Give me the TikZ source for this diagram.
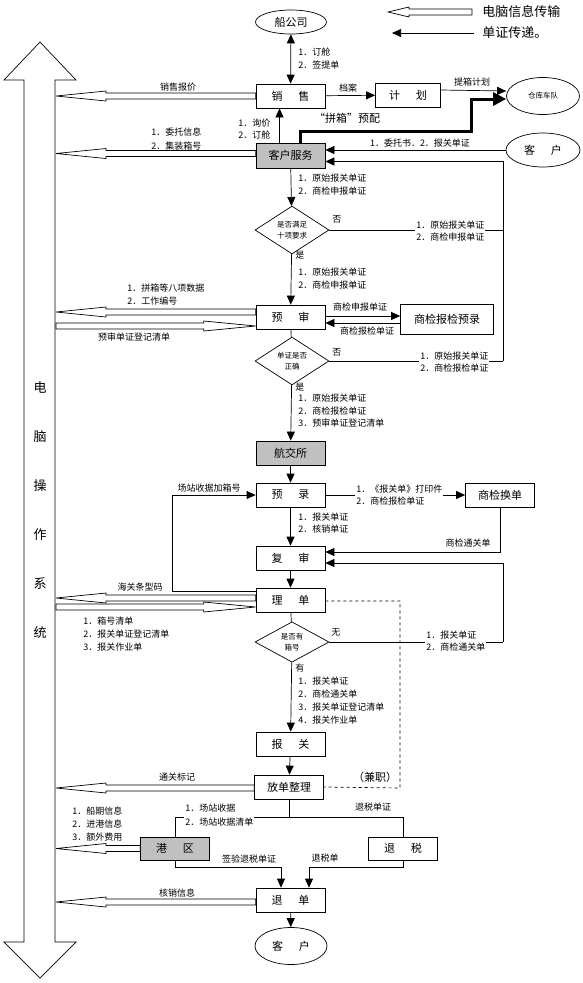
\documentclass[tikz,border=0pt]{standalone}
\usepackage{fontspec}
\setmainfont{Noto Sans CJK SC}
\usetikzlibrary{shapes.geometric,arrows.meta,calc}
\definecolor{boxgray}{RGB}{192,192,192}

\newcommand{\smallcn}{\fontsize{9}{12}\selectfont}
\newcommand{\tinycn}{\fontsize{7.5}{11}\selectfont}
\newcommand{\boxcn}{\fontsize{11}{13}\selectfont}
\newcommand{\bigcn}{\fontsize{13}{15}\selectfont}
\newcommand{\bgap}{\hspace{16pt}}

% hollow arrows to / from the computer system
\newcommand{\toSys}[1]{\draw[fill=white] let \p1=(#1) in
	(\x1,\y1+3pt) -- (106pt,\y1+3pt) -- (106pt,\y1+5pt) -- (56pt,\y1) -- (106pt,\y1-5pt) -- (106pt,\y1-3pt) -- (\x1,\y1-3pt) -- cycle;}
\newcommand{\fromSys}[1]{\draw[fill=white] let \p1=(#1) in
	(56pt,\y1+3pt) -- (\x1-52pt,\y1+3pt) -- (\x1-52pt,\y1+5pt) -- (\x1,\y1) -- (\x1-52pt,\y1-5pt) -- (\x1-52pt,\y1-3pt) -- (56pt,\y1-3pt) -- cycle;}

\begin{document}
\begin{tikzpicture}[x=1pt,y=-1pt,line width=0.7pt,
	every node/.style={inner sep=1pt},
	box/.style={draw, minimum width=69pt, minimum height=24pt, inner sep=0pt, font=\boxcn},
	shadebox/.style={box, fill=boxgray},
	cond/.style={draw, diamond, minimum width=74pt, minimum height=40pt, inner sep=0pt, align=center, font=\tinycn},
	oval/.style={draw, ellipse, inner sep=0pt, font=\boxcn},
	txt/.style={anchor=west, font=\smallcn},
	ctxt/.style={font=\smallcn},
	wtxt/.style={txt, align=left, fill=white},
	arr/.style={-{Triangle[length=9pt,width=8pt]}},
	arrr/.style={{Triangle[length=9pt,width=8pt]}-{Triangle[length=9pt,width=8pt]}}]
	
	\useasboundingbox (0,0) rectangle (582,983);
	
	% legend
	\draw[fill=white] (472,9) -- (409,9) -- (409,7) -- (388,12) -- (409,17) -- (409,15) -- (472,15) -- cycle;
	\node[anchor=west, font=\bigcn] (leg1) at (481,12) {电脑信息传输};
	\coordinate (legA) at (474,33); \coordinate (legB) at (392,33);
	\draw[arr] (legA) -- (legB);
	\node[anchor=west, font=\bigcn] (leg2) at (481,33) {单证传递。};
	
	% computer system
	\draw[fill=white] (24,80) -- (4,80) -- (40,42) -- (76,80) -- (55,80) -- (55,942) -- (76,942) -- (40,978) -- (4,942) -- (24,942) -- cycle;
	\foreach \ch [count=\i] in {电,脑,操,作,系,统}
	\node[font=\bigcn] (sys\i) at (40,{387+49.2*(\i-1)}) {\ch};
	
	% nodes
	\node[oval, minimum width=71pt, minimum height=24pt] (ship) at (291,22) {船公司};
	\node[box] (sales) at (290.5,96) {销\bgap 售};
	\node[box, minimum width=65pt] (plan) at (408,95) {计\bgap 划};
	\node[oval, minimum width=73pt, minimum height=37pt, font=\tinycn] (depot) at (543,96) {仓库车队};
	\node[shadebox, minimum height=25pt] (service) at (290.5,155.5) {客户服务};
	\node[oval, minimum width=74pt, minimum height=34pt] (client) at (543,150) {客\bgap 户};
	\node[cond] (check) at (292,230) {是否满足\\十项要求};
	\node[box] (preaudit) at (290.5,317) {预\bgap 审};
	\node[box, minimum width=93pt, minimum height=30pt] (ciq) at (447,319) {商检报检预录};
	\node[cond] (right) at (292,361) {单证是否\\正确};
	\node[shadebox] (hangjiao) at (290.5,453) {航交所};
	\node[box] (prerec) at (290.5,495) {预\bgap 录};
	\node[box] (swap) at (500,495) {商检换单};
	\node[box] (recheck) at (290.5,558) {复\bgap 审};
	\node[box] (sort) at (290.5,600) {理\bgap 单};
	\node[cond] (boxno) at (292,642) {是否有\\箱号};
	\node[box] (customs) at (290.5,744) {报\bgap 关};
	\node[box] (release) at (289,787) {放单整理};
	\node[shadebox, minimum height=23pt] (port) at (175,848.5) {港\bgap 区};
	\node[box, minimum height=23pt] (taxback) at (403,848.5) {退\bgap 税};
	\node[box] (refund) at (290.5,900) {退\bgap 单};
	\node[oval, minimum width=72pt, minimum height=37pt] (client2) at (291,946) {客\bgap 户};
	
	% top part
	\draw[arrr] (ship) -- (sales);
	\node[txt] (l1) at (297,52) {1．订舱};
	\node[txt] (l2) at (297,65) {2．签提单};
	\toSys{sales.west}
	\node[ctxt] (l3) at (178,87) {销售报价};
	\draw[arr] (sales) -- (plan);
	\node[ctxt] (l4) at (348,88) {档案};
	\draw[arr] ([yshift=5pt]plan.east) -- ([yshift=5pt]depot.west);
	\node[ctxt] (l5) at (472,82) {提箱计划};
	\draw[line width=3pt, -{Triangle[length=13pt,width=13pt]}] ([xshift=10pt]service.north) |- (471,131) |- ([yshift=-3pt]depot.west);
	\node[font=\boxcn] (l6) at (347,118) {“拼箱”预配};
	\draw[arr] ([xshift=-11pt]service.north) -- ([xshift=-11pt]sales.south);
	\node[txt] (l7) at (237,123) {1．询价};
	\node[txt] (l8) at (237,135) {2．订舱};
	\toSys{[yshift=2pt]service.west}
	\node[txt] (l9) at (150,132) {1．委托信息};
	\node[txt] (l10) at (150,146) {2．集装箱号};
	\draw[arr] (client.west) -- (client.west -| service.east);
	\node[ctxt] (l11) at (420,143) {1．委托书．2．报关单证};
	
	% checking
	\draw[arr] (service) -- (check);
	\node[txt] (l12) at (297,178) {1．原始报关单证};
	\node[txt] (l13) at (297,191) {2．商检申报单证};
	\coordinate (back1) at (503,230);
	\coordinate (back2) at (503,361);
	\draw (check.east) -- (back1);
	\draw (right.east) -- (back2);
	\draw[arr] (back2) |- ([yshift=-6pt]service.east);
	\node[txt] (no1) at (331,219) {否};
	\node[wtxt] (l14) at (415,231) {1．原始报关单证\\2．商检申报单证};
	\draw[arr] (check) -- (preaudit);
	\node[txt] (yes1) at (294,255) {是};
	\node[txt] (l15) at (297,272) {1．原始报关单证};
	\node[txt] (l16) at (297,285) {2．商检申报单证};
	
	% pre-audit
	\toSys{[yshift=5pt]preaudit.west}
	\node[txt] (l17) at (126,288) {1．拼箱等八项数据};
	\node[txt] (l18) at (126,301) {2．工作编号};
	\fromSys{[yshift=-9pt]preaudit.west}
	\node[ctxt] (l19) at (134,337) {预审单证登记清单};
	\draw[arr] ([yshift=1pt]preaudit.east) -- ([yshift=3pt]ciq.west);
	\draw[arr] ([yshift=-4pt]ciq.west) -- ([yshift=-6pt]preaudit.east);
	\node[ctxt] (l20) at (360,307) {商检申报单证};
	\node[ctxt] (l21) at (367,331) {商检报检单证};
	\draw (preaudit) -- (right);
	\node[txt] (no2) at (331,352) {否};
	\node[wtxt] (l22) at (419,362) {1．原始报关单证\\2．商检报检单证};
	\draw[arr] (right) -- (hangjiao);
	\node[txt] (yes2) at (294,387) {是};
	\node[txt] (l23) at (297,398) {1．原始报关单证};
	\node[txt] (l24) at (297,411) {2．商检报检单证};
	\node[txt] (l25) at (297,423) {3．预审单证登记清单};
	
	% pre-record and recheck
	\draw[arr] (hangjiao) -- (prerec);
	\draw[arr] ([yshift=9pt]sort.west) -| (172,495) -- (prerec.west);
	\node[ctxt] (l26) at (209,488) {场站收据加箱号};
	\draw[arr] (prerec) -- (swap);
	\node[wtxt] (l27) at (355,495) {1．《报关单》打印件\\2．商检报检单证};
	\draw[arr] (prerec) -- (recheck);
	\node[txt] (l28) at (297,517) {1．报关单证};
	\node[txt] (l29) at (297,529) {2．核销单证};
	\draw[arr] (swap.south) |- ([yshift=6pt]recheck.east);
	\node[ctxt] (l30) at (468,543) {商检通关单};
	\coordinate (back3) at (503,642);
	\draw (boxno.east) -- (back3);
	\draw[arr] (back3) |- ([yshift=-5pt]recheck.east);
	\node[txt] (no3) at (330,632) {无};
	\node[wtxt] (l35) at (425,641) {1．报关单证\\2．商检通关单};
	\draw[arr] (recheck) -- (sort);
	
	% sorting
	\toSys{[yshift=2pt]sort.west}
	\node[ctxt] (l31) at (140,587) {海关条型码};
	\fromSys{[yshift=-7pt]sort.west}
	\node[txt] (l32) at (82,621) {1．箱号清单};
	\node[txt] (l33) at (82,634) {2．报关单证登记清单};
	\node[txt] (l34) at (82,647) {3．报关作业单};
	\draw (sort) -- (boxno);
	\draw[arr] (boxno) -- (customs);
	\node[txt] (yes3) at (294,668) {有};
	\node[txt] (l36) at (297,681) {1．报关单证};
	\node[txt] (l37) at (297,694) {2．商检通关单};
	\node[txt] (l38) at (297,707) {3．报关单证登记清单};
	\node[txt] (l39) at (297,720) {4．报关作业单};
	\draw[arr] (customs) -- (release);
	\draw[dashed] ([yshift=-1pt]sort.east) -| (400,788) -- (release.east);
	\node[font=\boxcn] (part) at (375,777) {（兼职）};
	
	% release
	\toSys{[yshift=-1pt]release.west}
	\node[ctxt] (l40) at (177,777) {通关标记};
	\coordinate (split) at (289,817);
	\draw (release.south) -- (split);
	\draw (port.north) |- (split) -| (taxback.north);
	\node[txt] (l41) at (184,808) {1．场站收据};
	\node[wtxt] (l42) at (184,822) {2．场站收据清单};
	\node[ctxt] (l43) at (373,807) {退税单证};
	\toSys{port.west}
	\node[txt] (l44) at (71,811) {1．船期信息};
	\node[txt] (l45) at (71,824) {2．进港信息};
	\node[txt] (l46) at (71,837) {3．额外费用};
	\draw[arr] (port.south) -- ++(0,7) -| ([xshift=-9.5pt]refund.north);
	\node[ctxt] (l47) at (249,859) {签验退税单证};
	\draw[arr] (taxback.south) -- ++(0,7) -| ([xshift=18.5pt]refund.north);
	\node[ctxt] (l48) at (325,858) {退税单};
	\toSys{[yshift=-2pt]refund.west}
	\node[ctxt] (l49) at (177,893) {核销信息};
	\draw[arr] (refund) -- (client2);
	
\end{tikzpicture}
\end{document}
